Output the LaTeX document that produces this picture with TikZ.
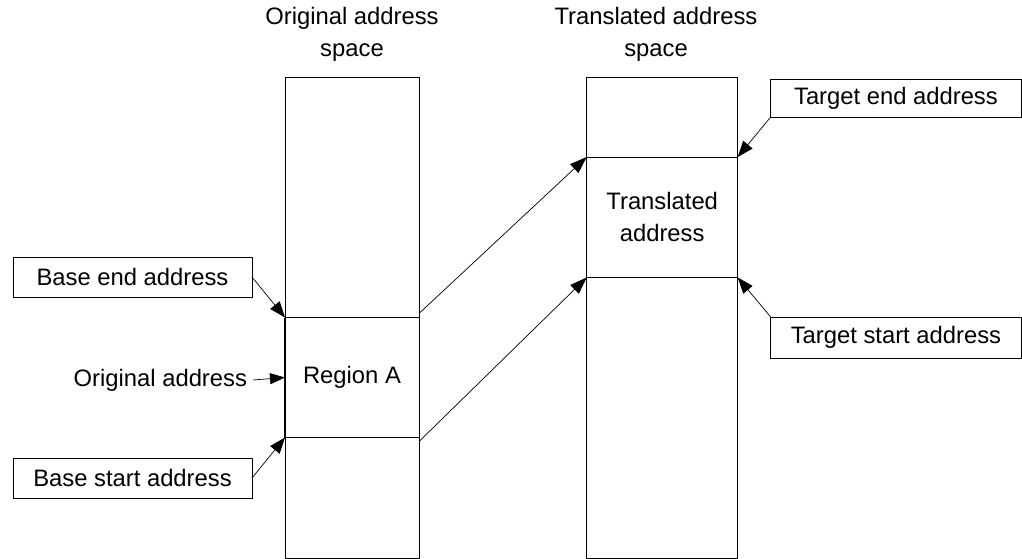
\documentclass[tikz,border=0pt]{standalone}
\usepackage{fontspec}
\setmainfont{Liberation Sans}
\usetikzlibrary{arrows.meta}
\begin{document}
\begin{tikzpicture}[x=1pt,y=-1pt,
  font=\fontsize{23.8}{32}\selectfont,
  every node/.style={inner sep=0pt,outer sep=0pt},
  blk/.style={draw,line width=0.8pt,anchor=north west},
  lbl/.style={draw,line width=0.8pt,anchor=north west,minimum height=40pt},
  ptr/.style={line width=0.7pt,-{Triangle[length=16pt,width=12pt]}},
  map/.style={line width=0.7pt,-{Triangle[length=17pt,width=12pt]}}]
\useasboundingbox (0,0) rectangle (1022,559);

% address space columns
\node[blk,minimum width=134pt,minimum height=480.5pt] (colL) at (285,77.5) {};
\node[blk,minimum width=151pt,minimum height=480.5pt] (colR) at (586.7,77.5) {};

% mapped regions
\node[blk,minimum width=134pt,minimum height=120pt] (A) at (285,317.5) {Region A};
\node[blk,minimum width=151pt,minimum height=120.5pt,align=center] (T) at (586.7,157) {Translated\\address};
\draw[line width=1.8pt] (A.north west) -- (A.south west);

% column titles
\node[align=center] (tL) at (352,34) {Original address\\space};
\node[align=center] (tR) at (656,34) {Translated address\\space};

% boundary labels
\node[lbl,minimum width=239pt] (be) at (13,257) {Base end address};
\node[lbl,minimum width=239pt] (bs) at (13,458) {Base start address};
\node[lbl,minimum width=250.5pt,minimum height=38pt] (te) at (770.7,79) {Target end address};
\node[lbl,minimum width=250.5pt,minimum height=41pt] (ts) at (770.7,317) {Target start address};
\node[anchor=east] (oa) at (247,380) {Original address};

% pointers to the boundaries
\draw[ptr] (be.east) -- (A.north west);
\draw[ptr] (bs.east) -- (A.south west);
\draw[ptr] (te.south west) -- (T.north east);
\draw[ptr] (ts.north west) -- (T.south east);
\draw[line width=0.7pt,-{Triangle[length=15pt,width=11pt]}] (oa.east) ++(6,0) -- (A.west);

% translation mapping
\draw[map] ([yshift=4pt]A.north east) -- (T.north west);
\draw[map] ([yshift=-4pt]A.south east) -- (T.south west);
\end{tikzpicture}
\end{document}
